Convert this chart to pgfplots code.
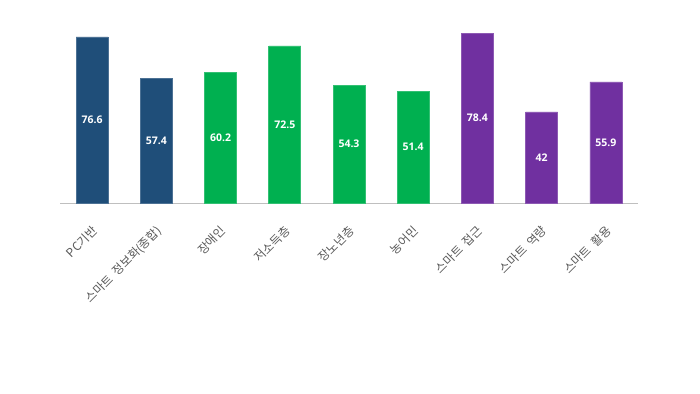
\documentclass[border=0pt]{standalone}
\usepackage{fontspec}
\setmainfont{Noto Sans CJK KR}
\newfontfamily\numfont{Open Sans}
\usepackage{pgfplots}
\usepackage{pgfplotstable}
\pgfplotsset{compat=1.18}
\definecolor{cblue}{HTML}{1F4E79}
\definecolor{cgreen}{HTML}{00B050}
\definecolor{cpurple}{HTML}{7030A0}
\definecolor{lblgray}{HTML}{595959}
\pgfplotstableread{
x y
0 76.6
1 57.4
}\tblue
\pgfplotstableread{
x y
2 60.2
3 72.5
4 54.3
5 51.4
}\tgreen
\pgfplotstableread{
x y
6 78.4
7 42
8 55.9
}\tpurple
\pgfplotstableread{
x y
0 76.6
1 57.4
2 60.2
3 72.5
4 54.3
5 51.4
6 78.4
7 42
8 55.9
}\tall
\begin{document}
\begin{tikzpicture}
\path[use as bounding box] (0,0) rectangle (700pt,393pt);
\begin{axis}[
  at={(60pt,190pt)}, anchor=south west,
  scale only axis, width=578pt, height=173.4pt,
  xmin=-0.5, xmax=8.5, ymin=0, ymax=80,
  axis x line*=bottom, hide y axis,
  axis line style={draw=black!25, line width=0.8pt},
  x axis line style={-},
  xtick={0,...,8}, major tick length=0pt,
  xticklabels={PC기반,스마트\ \ 정보화(종합),장애인,저소득층,장노년층,농어민,스마트\ \ 접근,스마트\ \ 역량,스마트\ \ 활용},
  xticklabel style={xshift=-1pt, yshift=-20pt, rotate=45, anchor=north east, font=\fontsize{12}{14}\selectfont, text=lblgray, inner sep=1pt},
  /pgf/number format/assume math mode=true,
  clip=false,
  ybar, bar width=32pt, bar shift=0pt,
]
\addplot[fill=cblue, draw=cblue!80!white, line width=0.6pt] table[x=x,y=y] {\tblue};
\addplot[fill=cgreen, draw=cgreen!80!white, line width=0.6pt] table[x=x,y=y] {\tgreen};
\addplot[fill=cpurple, draw=cpurple!80!white, line width=0.6pt] table[x=x,y=y] {\tpurple};
\addplot[draw=none, fill=none, mark=none, forget plot,
  nodes near coords, point meta=explicit,
  every node near coord/.append style={anchor=center, text=white, font=\numfont\bfseries\fontsize{10.5}{12}\selectfont}]
  table[x=x, y expr=\thisrow{y}/2, meta=y] {\tall};
\end{axis}
\end{tikzpicture}
\end{document}
